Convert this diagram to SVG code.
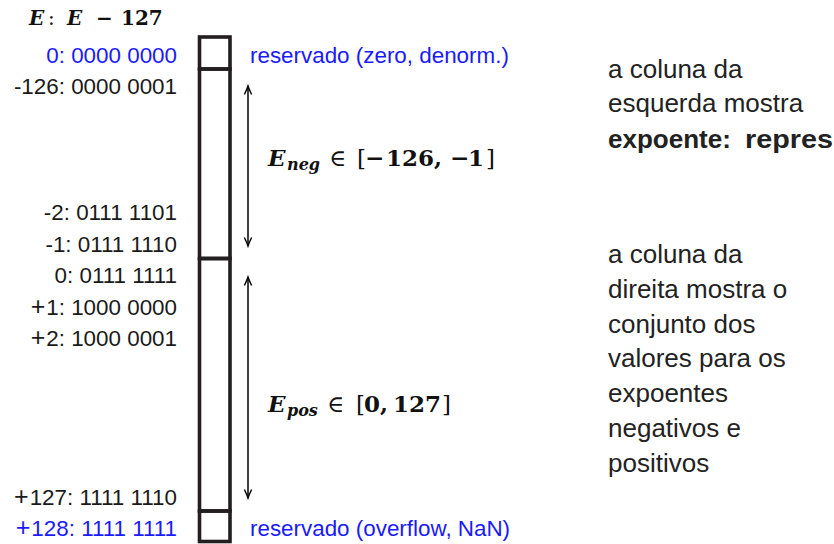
<svg xmlns="http://www.w3.org/2000/svg" width="834" height="544" viewBox="0 0 834 544">
<defs>
<style>
.lbl{font-family:"Liberation Sans",Arial,sans-serif;font-size:22.4px;fill:#1a1a1a;text-anchor:end}
.blue{fill:#1a1aff}
.pl{font-size:25px}
.res{font-family:"Liberation Sans",Arial,sans-serif;font-size:22.4px;fill:#1a1aff}
.cell{fill:none;stroke:#231f20;stroke-width:3.6}
.arr{fill:none;stroke:#000;stroke-width:1.5}
.math{font-family:"DejaVu Serif","Liberation Serif",serif;font-weight:bold;fill:#111}
.mi{font-style:italic}
.rg{font-weight:normal}
.rt{font-family:"Liberation Sans",Arial,sans-serif;font-size:26px;fill:#222}
</style>
<marker id="ah" markerUnits="userSpaceOnUse" orient="auto-start-reverse" viewBox="-10 -6 12 12" refX="0" refY="0" markerWidth="12" markerHeight="12" overflow="visible">
<path d="M-8.5,-3.6 Q-3,-1 0,0 Q-3,1 -8.5,3.6" fill="none" stroke="#000" stroke-width="1.4"/>
</marker>
</defs>

<g id="header">
<text class="math" font-size="20" y="25"><tspan class="mi" x="29">E</tspan><tspan class="rg" x="48">:</tspan><tspan class="mi" x="67">E</tspan><tspan x="96">−</tspan><tspan x="121">127</tspan></text>
</g>

<g id="labels">
<text class="lbl blue" x="177" y="63">0: 0000 0000</text>
<text class="lbl" x="177" y="94">-126: 0000 0001</text>
<text class="lbl" x="177" y="220">-2: 0111 1101</text>
<text class="lbl" x="177" y="252">-1: 0111 1110</text>
<text class="lbl" x="177" y="283">0: 0111 1111</text>
<text class="lbl" x="177" y="315"><tspan class="pl">+</tspan><tspan dx="1">1: 1000 0000</tspan></text>
<text class="lbl" x="177" y="346"><tspan class="pl">+</tspan><tspan dx="1">2: 1000 0001</tspan></text>
<text class="lbl" x="177" y="504.5"><tspan class="pl">+</tspan><tspan dx="1">127: 1111 1110</tspan></text>
<text class="lbl blue" x="177" y="535.5"><tspan class="pl">+</tspan><tspan dx="1">128: 1111 1111</tspan></text>
</g>

<g id="cell-zero"><rect class="cell" x="199.5" y="37" width="30.5" height="32"/></g>
<g id="cell-neg"><rect class="cell" x="199.5" y="69" width="30.5" height="189.5"/></g>
<g id="cell-pos"><rect class="cell" x="199.5" y="258.5" width="30.5" height="252.5"/></g>
<g id="cell-inf"><rect class="cell" x="199.5" y="511" width="30.5" height="30.5"/></g>

<g id="connectors">
<line class="arr" x1="248" y1="86" x2="248" y2="246" marker-start="url(#ah)" marker-end="url(#ah)"/>
<line class="arr" x1="248" y1="277" x2="248" y2="498" marker-start="url(#ah)" marker-end="url(#ah)"/>
</g>

<g id="reserved-zero"><text class="res" x="250" y="63">reservado (zero, denorm.)</text></g>
<g id="reserved-inf"><text class="res" x="250" y="535.5">reservado (overflow, NaN)</text></g>

<g id="eneg">
<text class="math" font-size="23" y="166"><tspan class="mi" x="268">E</tspan><tspan class="mi" font-size="16" x="287" dy="4">neg</tspan><tspan class="rg" x="329" dy="-4">∈</tspan><tspan class="rg" x="357">[</tspan><tspan x="365">−</tspan><tspan x="386">126</tspan><tspan x="434">,</tspan><tspan x="450">−</tspan><tspan x="468">1</tspan><tspan class="rg" x="486">]</tspan></text>
</g>
<g id="epos">
<text class="math" font-size="23" y="412"><tspan class="mi" x="268">E</tspan><tspan class="mi" font-size="16" x="287" dy="4">pos</tspan><tspan class="rg" x="327" dy="-4">∈</tspan><tspan class="rg" x="356">[</tspan><tspan x="364">0</tspan><tspan x="380">,</tspan><tspan x="393">127</tspan><tspan class="rg" x="442">]</tspan></text>
</g>

<g id="note-left">
<text class="rt" x="608" y="78">a coluna da</text>
<text class="rt" x="608" y="112">esquerda mostra</text>
<text class="rt" y="148" font-weight="bold"><tspan x="608">expoente:</tspan><tspan x="745" textLength="88" lengthAdjust="spacingAndGlyphs">repres</tspan></text>
</g>
<g id="note-right">
<text class="rt" x="608" y="263">a coluna da</text>
<text class="rt" x="608" y="298">direita mostra o</text>
<text class="rt" x="608" y="333">conjunto dos</text>
<text class="rt" x="608" y="367">valores para os</text>
<text class="rt" x="608" y="402">expoentes</text>
<text class="rt" x="608" y="437">negativos e</text>
<text class="rt" x="608" y="472">positivos</text>
</g>
</svg>
